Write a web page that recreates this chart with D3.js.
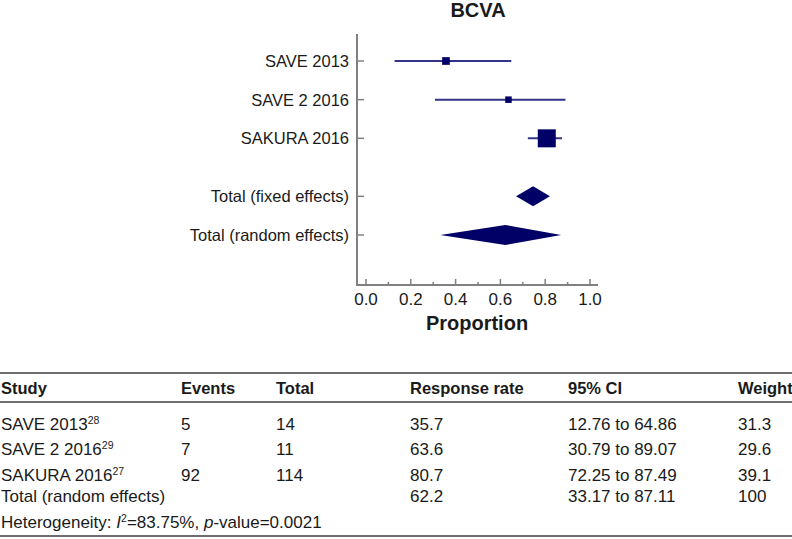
<!DOCTYPE html>
<html lang="en">
<head>
    <meta charset="UTF-8">
    <title>BCVA forest plot</title>
    <script src="https://cdnjs.cloudflare.com/ajax/libs/d3/7.8.5/d3.min.js"></script>
    <style>
        * {
            margin: 0;
            padding: 0;
            box-sizing: border-box;
        }

        body {
            background-color: #fff;
            font-family: Arial, 'Liberation Sans', sans-serif;
        }

        svg text {
            fill: #1a1a1a;
        }
    </style>
</head>
<body>
    <div id="chart"></div>

    <script>
        // Study data
        const studies = ['SAVE 2013', 'SAVE 2 2016', 'SAKURA 2016'];
        const refs = ['28', '29', '27'];
        const events = [5, 7, 92];
        const totals = [14, 11, 114];
        const rates = [35.7, 63.6, 80.7];
        const ciLow = [12.76, 30.79, 72.25];
        const ciHigh = [64.86, 89.07, 87.49];
        const weights = [31.3, 29.6, 39.1];

        // Pooled estimates
        const pooledLabels = ['Total (fixed effects)', 'Total (random effects)'];
        const pooledRates = [74.6, 62.2];      // fixed value estimated from the plot
        const pooledLow = [67.0, 33.17];
        const pooledHigh = [82.1, 87.11];
        const randomWeight = 100;

        const xTicks = [0, 0.2, 0.4, 0.6, 0.8, 1.0];
        const heterogeneity = { i2: '83.75%', p: '0.0021' };

        const W = 792, H = 539;
        const navy = '#000066';
        const axisGrey = '#808080';

        const svg = d3.select('#chart')
            .append('svg')
            .attr('width', W)
            .attr('height', H);

        // ---- forest plot ----
        const x = d3.scaleLinear().domain([0, 1]).range([366, 590]);
        // row positions: three studies, a gap, then the two totals
        const rowPos = [0, 1, 2, 3.5, 4.5];
        const y = d3.scaleLinear().domain([0, 4.5]).range([61, 235]);
        const markSize = d3.scaleLog().domain([11, 114]).range([6.5, 18]);

        const axisLeft = 357, axisTop = 34, axisBottom = 285, axisRight = 598;

        svg.append('text')
            .attr('x', 478)
            .attr('y', 17)
            .attr('text-anchor', 'middle')
            .style('font-size', '20px')
            .style('font-weight', 'bold')
            .text('BCVA');

        // axes lines
        svg.append('line')
            .attr('x1', axisLeft).attr('x2', axisLeft)
            .attr('y1', axisTop).attr('y2', axisBottom)
            .attr('stroke', axisGrey).attr('stroke-width', 2);
        svg.append('line')
            .attr('x1', axisLeft - 1).attr('x2', axisRight)
            .attr('y1', axisBottom).attr('y2', axisBottom)
            .attr('stroke', axisGrey).attr('stroke-width', 2);

        // x ticks (major + minor, pointing up)
        const minor = d3.range(0.1, 1, 0.2);
        svg.selectAll('.xmajor')
            .data(xTicks)
            .enter()
            .append('line')
            .attr('x1', d => x(d)).attr('x2', d => x(d))
            .attr('y1', axisBottom).attr('y2', axisBottom - 6)
            .attr('stroke', axisGrey).attr('stroke-width', 1.5);
        svg.selectAll('.xminor')
            .data(minor)
            .enter()
            .append('line')
            .attr('x1', d => x(d)).attr('x2', d => x(d))
            .attr('y1', axisBottom).attr('y2', axisBottom - 3)
            .attr('stroke', axisGrey).attr('stroke-width', 1.5);
        svg.selectAll('.xlabel')
            .data(xTicks)
            .enter()
            .append('text')
            .attr('x', d => x(d))
            .attr('y', 305)
            .attr('text-anchor', 'middle')
            .style('font-size', '17px')
            .text(d => d3.format('.1f')(d));

        svg.append('text')
            .attr('x', 477)
            .attr('y', 330)
            .attr('text-anchor', 'middle')
            .style('font-size', '20px')
            .style('font-weight', 'bold')
            .text('Proportion');

        // y ticks + labels
        const rowLabels = studies.concat(pooledLabels);
        svg.selectAll('.ytick')
            .data(rowPos)
            .enter()
            .append('line')
            .attr('x1', axisLeft).attr('x2', axisLeft + 7)
            .attr('y1', d => y(d)).attr('y2', d => y(d))
            .attr('stroke', axisGrey).attr('stroke-width', 1.5);
        svg.selectAll('.ylabel')
            .data(rowLabels)
            .enter()
            .append('text')
            .attr('x', 349)
            .attr('y', (d, i) => y(rowPos[i]) + 6)
            .attr('text-anchor', 'end')
            .style('font-size', '16.5px')
            .text(d => d);

        // study CIs and squares
        svg.selectAll('.ci')
            .data(studies)
            .enter()
            .append('line')
            .attr('x1', (d, i) => x(ciLow[i] / 100))
            .attr('x2', (d, i) => x(ciHigh[i] / 100))
            .attr('y1', (d, i) => y(rowPos[i]))
            .attr('y2', (d, i) => y(rowPos[i]))
            .attr('stroke', '#33338a')
            .attr('stroke-width', 2);
        svg.selectAll('.mark')
            .data(studies)
            .enter()
            .append('rect')
            .attr('x', (d, i) => x(rates[i] / 100) - markSize(totals[i]) / 2)
            .attr('y', (d, i) => y(rowPos[i]) - markSize(totals[i]) / 2)
            .attr('width', (d, i) => markSize(totals[i]))
            .attr('height', (d, i) => markSize(totals[i]))
            .attr('fill', navy);

        // pooled diamonds
        svg.selectAll('.diamond')
            .data(pooledLabels)
            .enter()
            .append('path')
            .attr('d', (d, i) => {
                const cy = y(rowPos[3 + i]);
                const h = 10;
                return `M${x(pooledLow[i] / 100)},${cy} L${x(pooledRates[i] / 100)},${cy - h} ` +
                    `L${x(pooledHigh[i] / 100)},${cy} L${x(pooledRates[i] / 100)},${cy + h} Z`;
            })
            .attr('fill', navy);

        // ---- table ----
        const cols = [1, 181, 276, 410, 568, 738];
        const headers = ['Study', 'Events', 'Total', 'Response rate', '95% CI', 'Weight'];
        const lineGrey = '#6e6e6e';
        const fs = '17px';

        [373, 402, 536].forEach(ly => {
            svg.append('line')
                .attr('x1', 0).attr('x2', W)
                .attr('y1', ly).attr('y2', ly)
                .attr('stroke', lineGrey)
                .attr('stroke-width', 2);
        });

        svg.selectAll('.header')
            .data(headers)
            .enter()
            .append('text')
            .attr('x', (d, i) => cols[i])
            .attr('y', 394)
            .style('font-size', '16.5px')
            .style('font-weight', 'bold')
            .text(d => d);

        const rowY = [430, 455, 481];
        const fmtCI = (lo, hi) => `${lo.toFixed(2)} to ${hi.toFixed(2)}`;

        studies.forEach((s, i) => {
            const t = svg.append('text')
                .attr('x', cols[0])
                .attr('y', rowY[i])
                .style('font-size', fs);
            t.append('tspan').text(s);
            t.append('tspan')
                .attr('dy', -6)
                .style('font-size', '10.5px')
                .text(refs[i]);

            const cells = [events[i], totals[i], rates[i].toFixed(1), fmtCI(ciLow[i], ciHigh[i]), weights[i].toFixed(1)];
            cells.forEach((c, j) => {
                svg.append('text')
                    .attr('x', cols[j + 1])
                    .attr('y', rowY[i])
                    .style('font-size', fs)
                    .text(c);
            });
        });

        // random-effects total row
        const totalY = 502;
        svg.append('text').attr('x', cols[0]).attr('y', totalY)
            .style('font-size', fs).text(pooledLabels[1]);
        [[3, pooledRates[1].toFixed(1)], [4, fmtCI(pooledLow[1], pooledHigh[1])], [5, randomWeight]]
            .forEach(([j, c]) => {
                svg.append('text').attr('x', cols[j]).attr('y', totalY)
                    .style('font-size', fs).text(c);
            });

        // heterogeneity line
        const het = svg.append('text')
            .attr('x', cols[0])
            .attr('y', 528)
            .style('font-size', fs);
        het.append('tspan').text('Heterogeneity: ');
        het.append('tspan').style('font-style', 'italic').text('I');
        het.append('tspan').attr('dy', -6).style('font-size', '10.5px').text('2');
        het.append('tspan').attr('dy', 6).text(`=${heterogeneity.i2}, `);
        het.append('tspan').style('font-style', 'italic').text('p');
        het.append('tspan').text(`-value=${heterogeneity.p}`);
    </script>
</body>
</html>
